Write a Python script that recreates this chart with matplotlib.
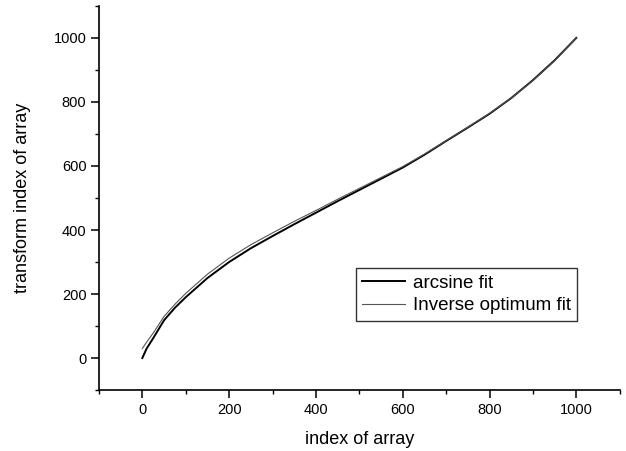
import matplotlib
matplotlib.use('Agg')
import matplotlib.pyplot as plt
from matplotlib.ticker import MultipleLocator

plt.rcParams['font.family'] = ['Liberation Sans', 'DejaVu Sans']

# values
idx = [0, 10, 25, 50, 75, 100, 150, 200, 250, 300, 350, 400, 450, 500,
       550, 600, 650, 700, 750, 800, 850, 900, 950, 1000]
arcsine_fit = [0, 30, 62, 118, 157, 190, 250, 300, 343, 381, 418, 454, 490, 525,
               560, 595, 635, 678, 720, 763, 812, 868, 930, 1000]
inverse_fit = [30, 50, 78, 130, 168, 202, 262, 312, 354, 391, 427, 461, 496, 530,
               564, 598, 637, 679, 721, 764, 812, 867, 929, 1000]

fig = plt.figure(figsize=(6.26, 4.51), dpi=100)
ax = fig.add_axes([0.158, 0.135, 0.832, 0.852])

ax.plot(idx, arcsine_fit, color='black', lw=1.4, label='arcsine fit')
ax.plot(idx, inverse_fit, color='#555555', lw=0.8, label='Inverse optimum fit')

ax.set_xlim(-100, 1100)
ax.set_ylim(-100, 1100)
ax.xaxis.set_minor_locator(MultipleLocator(100))
ax.yaxis.set_minor_locator(MultipleLocator(100))
ax.set_xticks([0, 200, 400, 600, 800, 1000])
ax.set_yticks([0, 200, 400, 600, 800, 1000])

for s in ['top', 'right']:
    ax.spines[s].set_visible(False)
for s in ['left', 'bottom']:
    ax.spines[s].set_linewidth(1.2)

ax.tick_params(which='major', direction='out', length=5.5, width=1.1, labelsize=10.5)
ax.tick_params(which='minor', direction='out', length=3, width=1.0)

ax.set_xlabel('index of array', fontsize=13, labelpad=10)
ax.set_ylabel('transform index of array', fontsize=13, labelpad=16)

leg = ax.legend(loc='lower left', bbox_to_anchor=(0.493, 0.18), fontsize=13.5,
                frameon=True, fancybox=False, edgecolor='black',
                handlelength=2.3, borderpad=0.35, labelspacing=0.3,
                handletextpad=0.4, borderaxespad=0)
leg.get_frame().set_linewidth(1.0)

fig.savefig('out.png', dpi=100)
